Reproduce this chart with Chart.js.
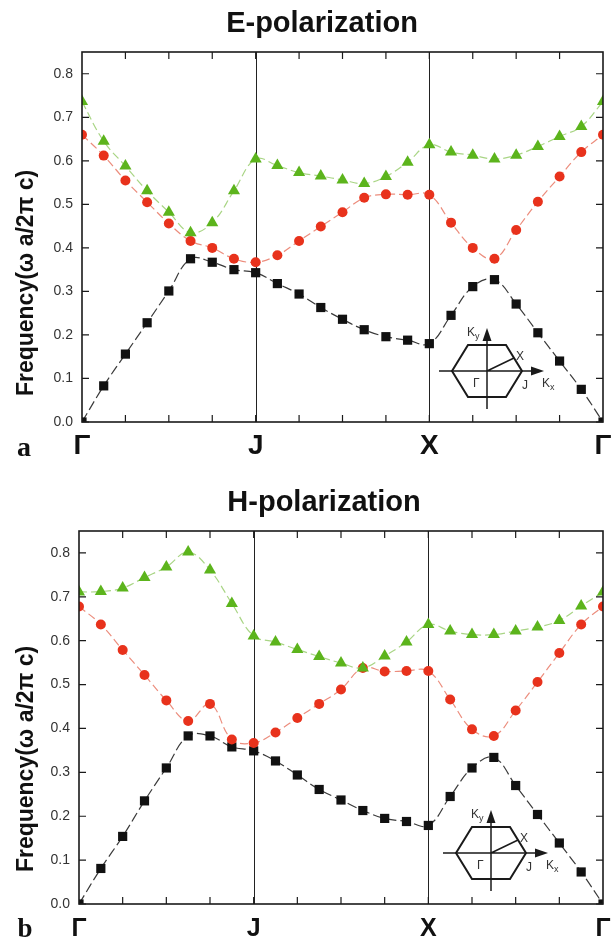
<!DOCTYPE html>
<html>
<head>
<meta charset="utf-8">
<script src="https://cdn.jsdelivr.net/npm/chart.js@4.4.0/dist/chart.umd.min.js"></script>
<style>
    html, body { margin: 0; padding: 0; background: #fff; overflow: hidden; }
    canvas { display: block; }
    #wrapE { position: absolute; left: 0; top: 0; width: 615px; height: 470px; }
    #wrapH { position: absolute; left: 0; top: 470px; width: 615px; height: 473px; }
</style>
</head>
<body>
<div id="wrapE"><canvas id="chartE"></canvas></div>
<div id="wrapH"><canvas id="chartH"></canvas></div>
<script>
// k-path positions (half tick steps), symmetry points and axis ticks
const kPath = [0, 1, 2, 3, 4, 5, 6, 7, 8, 9, 10, 11, 12, 13, 14, 15, 16, 17, 18, 19, 20, 21, 22, 23, 24];
const kTicks = [0, 2, 4, 6, 8, 10, 12, 14, 16, 18, 20, 22, 24];
const symPos = [0, 8, 16, 24];
const symNames = ['Γ', 'J', 'X', 'Γ'];
const yTicks = [0, 0.1, 0.2, 0.3, 0.4, 0.5, 0.6, 0.7, 0.8];

// E-polarization bands
const eBand1 = [0.0, 0.083, 0.156, 0.228, 0.301, 0.375, 0.367, 0.350, 0.343, 0.318, 0.294, 0.263, 0.236, 0.212, 0.196, 0.188, 0.180, 0.245, 0.311, 0.327, 0.271, 0.205, 0.140, 0.075, 0.0];
const eBand2 = [0.660, 0.612, 0.555, 0.505, 0.456, 0.416, 0.400, 0.375, 0.367, 0.383, 0.416, 0.449, 0.482, 0.515, 0.523, 0.522, 0.522, 0.458, 0.400, 0.375, 0.441, 0.506, 0.564, 0.620, 0.660];
const eBand3 = [0.736, 0.645, 0.588, 0.531, 0.482, 0.435, 0.458, 0.531, 0.604, 0.589, 0.573, 0.565, 0.556, 0.548, 0.564, 0.597, 0.637, 0.620, 0.613, 0.604, 0.613, 0.633, 0.656, 0.679, 0.736];

// H-polarization bands
const hBand1 = [0.0, 0.081, 0.154, 0.235, 0.310, 0.383, 0.383, 0.358, 0.349, 0.326, 0.294, 0.261, 0.237, 0.213, 0.195, 0.188, 0.179, 0.245, 0.310, 0.334, 0.270, 0.204, 0.139, 0.073, 0.0];
const hBand2 = [0.678, 0.637, 0.579, 0.522, 0.464, 0.417, 0.456, 0.375, 0.367, 0.391, 0.424, 0.456, 0.489, 0.538, 0.530, 0.531, 0.531, 0.466, 0.398, 0.383, 0.441, 0.506, 0.572, 0.637, 0.678];
const hBand3 = [0.711, 0.712, 0.720, 0.744, 0.768, 0.802, 0.761, 0.685, 0.611, 0.597, 0.580, 0.564, 0.549, 0.538, 0.565, 0.597, 0.637, 0.622, 0.614, 0.614, 0.622, 0.631, 0.646, 0.679, 0.711];

Chart.defaults.font.family = '"Liberation Sans", Arial, sans-serif';
Chart.defaults.animation = false;

function toPoints(band) {
    return kPath.map((k, i) => ({ x: k, y: band[i] }));
}

function bandSets(b1, b2, b3) {
    return [
        {
            data: toPoints(b3),
            borderColor: '#a9d585',
            borderWidth: 1.2,
            borderDash: [8, 4],
            pointStyle: 'triangle',
            pointRadius: 7,
            pointBackgroundColor: '#5cb41c',
            pointBorderWidth: 0,
            tension: 0.4
        },
        {
            data: toPoints(b2),
            borderColor: '#ec8d7d',
            borderWidth: 1.2,
            borderDash: [8, 4],
            pointStyle: 'circle',
            pointRadius: 5,
            pointBackgroundColor: '#e8321c',
            pointBorderWidth: 0,
            tension: 0.4
        },
        {
            data: toPoints(b1),
            borderColor: '#3a3a3a',
            borderWidth: 1.2,
            borderDash: [10, 4],
            pointStyle: 'rect',
            pointRadius: 6.5,
            pointBackgroundColor: '#111',
            pointBorderWidth: 0,
            tension: 0.4
        }
    ];
}

// small Brillouin zone sketch in the lower right corner
function drawInset(ctx, cx, cy) {
    ctx.strokeStyle = '#1a1a1a';
    ctx.fillStyle = '#1a1a1a';
    ctx.lineWidth = 2;
    ctx.beginPath();
    ctx.moveTo(cx - 35, cy);
    ctx.lineTo(cx - 19, cy - 26);
    ctx.lineTo(cx + 19, cy - 26);
    ctx.lineTo(cx + 35, cy);
    ctx.lineTo(cx + 19, cy + 26);
    ctx.lineTo(cx - 19, cy + 26);
    ctx.closePath();
    ctx.stroke();

    ctx.lineWidth = 1.5;
    ctx.beginPath();
    ctx.moveTo(cx, cy); ctx.lineTo(cx + 27, cy - 13);
    ctx.moveTo(cx - 48, cy); ctx.lineTo(cx + 46, cy);
    ctx.moveTo(cx, cy + 38); ctx.lineTo(cx, cy - 32);
    ctx.stroke();

    ctx.beginPath();
    ctx.moveTo(cx + 57, cy); ctx.lineTo(cx + 44, cy - 4.5); ctx.lineTo(cx + 44, cy + 4.5);
    ctx.closePath(); ctx.fill();
    ctx.beginPath();
    ctx.moveTo(cx, cy - 43); ctx.lineTo(cx - 4.5, cy - 30); ctx.lineTo(cx + 4.5, cy - 30);
    ctx.closePath(); ctx.fill();

    ctx.fillStyle = '#333';
    ctx.textBaseline = 'alphabetic';
    ctx.textAlign = 'left';
    ctx.font = '12px "Liberation Sans", Arial, sans-serif';
    ctx.fillText('K', cx - 20, cy - 35);
    ctx.fillText('X', cx + 29, cy - 11);
    ctx.fillText('Γ', cx - 14, cy + 16);
    ctx.fillText('J', cx + 35, cy + 18);
    ctx.fillText('K', cx + 55, cy + 16);
    ctx.font = '9px "Liberation Sans", Arial, sans-serif';
    ctx.fillText('y', cx - 12, cy - 32);
    ctx.fillText('x', cx + 63, cy + 19);
}

const panelDecor = {
    id: 'panelDecor',
    beforeDatasetsDraw(chart) {
        const { ctx, chartArea: a, scales: { x } } = chart;
        ctx.save();
        ctx.strokeStyle = '#222';
        ctx.lineWidth = 1;
        symPos.slice(1, -1).forEach(k => {
            const px = Math.round(x.getPixelForValue(k)) + 0.5;
            ctx.beginPath();
            ctx.moveTo(px, a.top);
            ctx.lineTo(px, a.bottom);
            ctx.stroke();
        });
        ctx.restore();
    },
    afterDraw(chart, args, o) {
        const { ctx, chartArea: a, scales: { x, y } } = chart;
        ctx.save();

        // frame and inward ticks on all four sides
        ctx.strokeStyle = '#1a1a1a';
        ctx.lineWidth = 1.6;
        ctx.strokeRect(a.left, a.top, a.width, a.height);
        ctx.lineWidth = 1.2;
        ctx.beginPath();
        kTicks.forEach(k => {
            if (k === 0 || k === 24) return;
            const px = x.getPixelForValue(k);
            ctx.moveTo(px, a.bottom); ctx.lineTo(px, a.bottom - 7);
            ctx.moveTo(px, a.top); ctx.lineTo(px, a.top + 7);
        });
        yTicks.forEach(v => {
            const py = y.getPixelForValue(v);
            ctx.moveTo(a.left, py); ctx.lineTo(a.left + 7, py);
            ctx.moveTo(a.right, py); ctx.lineTo(a.right - 7, py);
        });
        ctx.stroke();

        drawInset(ctx, a.right - o.insetDX, a.bottom - o.insetDY);

        // title
        ctx.fillStyle = '#111';
        ctx.textAlign = 'center';
        ctx.textBaseline = 'alphabetic';
        ctx.font = 'bold 29px "Liberation Sans", Arial, sans-serif';
        ctx.fillText(o.title, o.titleX, o.titleY);

        // panel letter
        ctx.font = 'bold ' + o.letterSize + 'px "Liberation Serif", "Times New Roman", serif';
        ctx.fillText(o.letter, o.letterX, o.letterY);

        // y axis label
        ctx.translate(o.labelX, o.labelY);
        ctx.rotate(-Math.PI / 2);
        ctx.textBaseline = 'middle';
        ctx.font = 'bold 23px "Liberation Sans", Arial, sans-serif';
        ctx.fillText('Frequency(ω a/2π c)', 0, 0);
        ctx.restore();
    }
};

function makeChart(id, b1, b2, b3, p) {
    return new Chart(document.getElementById(id).getContext('2d'), {
        type: 'line',
        data: { datasets: bandSets(b1, b2, b3) },
        options: {
            responsive: true,
            maintainAspectRatio: false,
            layout: { padding: { top: p.padTop, right: 12, left: 0, bottom: 0 } },
            plugins: {
                legend: { display: false },
                tooltip: { enabled: false },
                panelDecor: p
            },
            scales: {
                x: {
                    type: 'linear',
                    min: 0,
                    max: 24,
                    afterBuildTicks: s => { s.ticks = kTicks.map(v => ({ value: v })); },
                    afterFit: s => {
                        s.height = p.xHeight;
                        s.paddingLeft = 0;
                        s.paddingRight = 0;
                    },
                    grid: { display: false, drawTicks: false },
                    border: { display: false },
                    ticks: {
                        autoSkip: false,
                        maxRotation: 0,
                        padding: p.xPad,
                        color: '#111',
                        font: { size: p.xFont, weight: 'bold' },
                        callback: v => {
                            const i = symPos.indexOf(v);
                            return i >= 0 ? symNames[i] : '';
                        }
                    }
                },
                y: {
                    min: 0,
                    max: 0.85,
                    afterBuildTicks: s => { s.ticks = yTicks.map(v => ({ value: v })); },
                    afterFit: s => { s.width = p.yWidth; },
                    grid: { display: false, drawTicks: false },
                    border: { display: false },
                    ticks: {
                        padding: 9,
                        color: '#333',
                        font: { size: 14 },
                        callback: v => v.toFixed(1)
                    }
                }
            }
        },
        plugins: [panelDecor]
    });
}

makeChart('chartE', eBand1, eBand2, eBand3, {
    padTop: 52, xHeight: 48, yWidth: 82, xPad: 7, xFont: 28,
    title: 'E-polarization', titleX: 322, titleY: 32,
    letter: 'a', letterX: 24, letterY: 456, letterSize: 28,
    labelX: 27, labelY: 283,
    insetDX: 116, insetDY: 51
});

makeChart('chartH', hBand1, hBand2, hBand3, {
    padTop: 61, xHeight: 39, yWidth: 79, xPad: 10, xFont: 25,
    title: 'H-polarization', titleX: 324, titleY: 41,
    letter: 'b', letterX: 25, letterY: 467, letterSize: 27,
    labelX: 27, labelY: 289,
    insetDX: 112, insetDY: 51
});
</script>
</body>
</html>
